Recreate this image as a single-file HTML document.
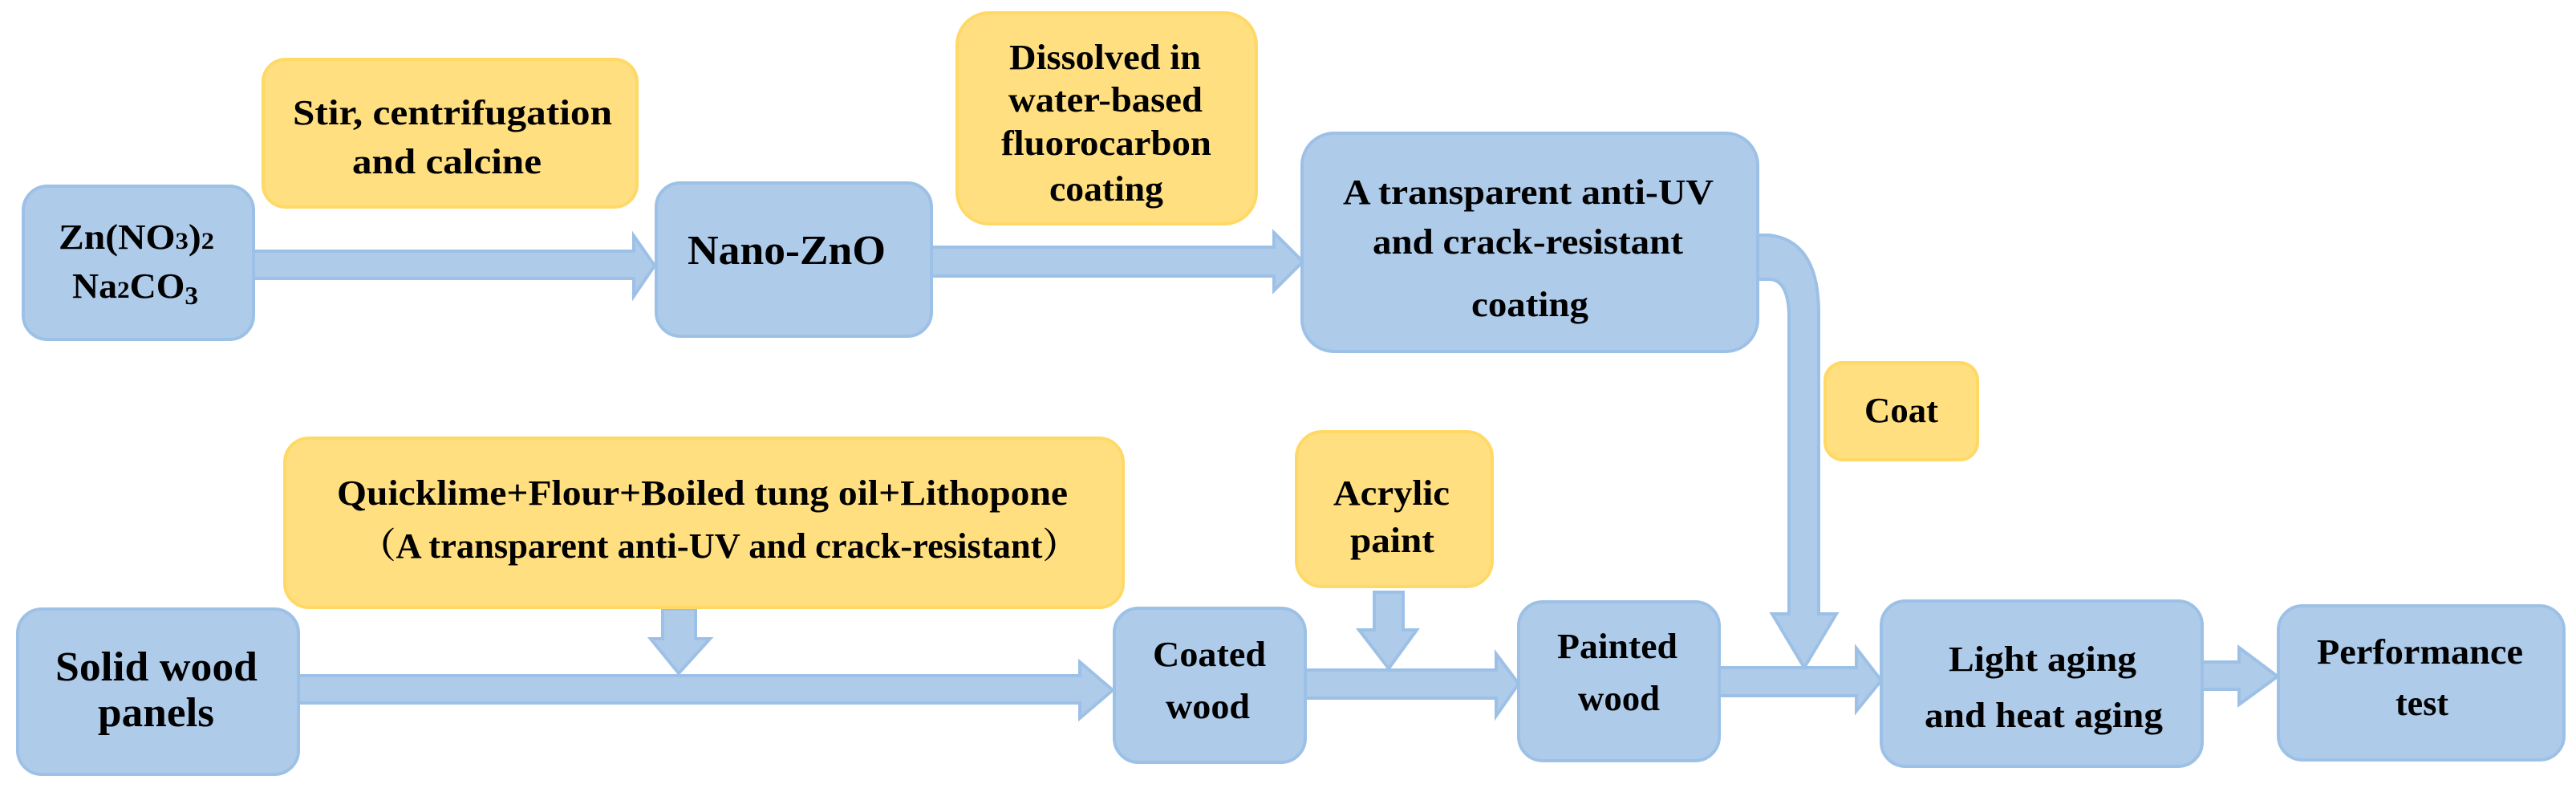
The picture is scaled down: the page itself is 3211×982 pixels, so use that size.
<!DOCTYPE html>
<html><head><meta charset="utf-8"><style>
html,body{margin:0;padding:0;background:#fff;}
svg{display:block;}
text{font-family:"Liberation Serif",serif;font-weight:bold;fill:#000;}
</style></head><body>
<svg width="3211" height="982" viewBox="0 0 3211 982" xmlns="http://www.w3.org/2000/svg">
<defs></defs>
<g fill="#aecbea" stroke="#9dc1e6" stroke-width="4">
<!-- arrows -->
<polygon points="316,313 790,313 790,294 816,331 790,369 790,347 316,347"/>
<polygon points="1161,308 1588,308 1588,290 1624,326 1588,362 1588,344 1161,344"/>
<polygon points="372,842 1346,842 1346,825 1387,860 1346,895 1346,876 372,876"/>
<polygon points="826,759 867,759 867,796 885,796 846,839 811,796 826,796"/>
<polygon points="1627,835 1865,835 1865,815 1893,852 1865,892 1865,870 1627,870"/>
<polygon points="1713,738 1749,738 1749,785 1766,785 1731,833 1694,785 1713,785"/>
<polygon points="2143,832 2314,832 2314,808 2345,848 2314,886 2314,867 2143,867"/>
<polygon points="2745,825 2791,825 2791,807 2839,843 2791,878 2791,859 2745,859"/>
<path d="M2190,293 L2205,293 Q2267,300 2267,390 L2267,765 L2289,765 L2249,832 L2209,765 L2230,765 L2230,390 Q2228,348 2205,348 L2190,348 Z"/>
</g>
<g fill="#aecbea" stroke="#9dc1e6" stroke-width="4">
<rect x="29" y="232" width="287" height="191" rx="30"/>
<rect x="818" y="228" width="343" height="191" rx="30"/>
<rect x="1623" y="166" width="568" height="272" rx="40"/>
<rect x="22" y="759" width="350" height="206" rx="30"/>
<rect x="1389" y="758" width="238" height="192" rx="30"/>
<rect x="1893" y="750" width="250" height="198" rx="30"/>
<rect x="2345" y="749" width="400" height="206" rx="30"/>
<rect x="2840" y="755" width="356" height="192" rx="30"/>
</g>
<g fill="#ffdf80" stroke="#ffd966" stroke-width="4">
<rect x="328" y="74" width="466" height="184" rx="28"/>
<rect x="1193" y="16" width="373" height="263" rx="40"/>
<rect x="355" y="546" width="1045" height="211" rx="30"/>
<rect x="1616" y="538" width="244" height="193" rx="32"/>
<rect x="2275" y="452" width="190" height="121" rx="22"/>
</g>
<g font-size="44">
<text x="365" y="155" textLength="398" lengthAdjust="spacingAndGlyphs">Stir, centrifugation</text>
<text x="439" y="216" textLength="236" lengthAdjust="spacingAndGlyphs">and calcine</text>
<text x="73" y="310" textLength="194" lengthAdjust="spacingAndGlyphs">Zn(NO<tspan font-size="30">3</tspan>)<tspan font-size="30">2</tspan></text>
<text x="90" y="371" textLength="157" lengthAdjust="spacingAndGlyphs">Na<tspan font-size="30">2</tspan>CO<tspan font-size="32" dy="8">3</tspan></text>
<text x="857" y="329" font-size="52" textLength="247" lengthAdjust="spacingAndGlyphs">Nano-ZnO</text>
<text x="1258" y="86" textLength="239" lengthAdjust="spacingAndGlyphs">Dissolved in</text>
<text x="1257" y="139" textLength="242" lengthAdjust="spacingAndGlyphs">water-based</text>
<text x="1248" y="193" textLength="262" lengthAdjust="spacingAndGlyphs">fluorocarbon</text>
<text x="1308" y="250" textLength="142" lengthAdjust="spacingAndGlyphs">coating</text>
<text x="1674" y="254" textLength="462" lengthAdjust="spacingAndGlyphs">A transparent anti-UV</text>
<text x="1711" y="316" textLength="387" lengthAdjust="spacingAndGlyphs">and crack-resistant</text>
<text x="1834" y="394" textLength="146" lengthAdjust="spacingAndGlyphs">coating</text>
<text x="2324" y="526" textLength="92" lengthAdjust="spacingAndGlyphs">Coat</text>
<text x="420" y="629" textLength="911" lengthAdjust="spacingAndGlyphs">Quicklime+Flour+Boiled tung oil+Lithopone</text>
<text x="449" y="695" textLength="895" lengthAdjust="spacingAndGlyphs" style="font-family:'Liberation Serif','Noto Serif CJK SC',serif">（A transparent anti-UV and crack-resistant）</text>
<text x="69" y="848" font-size="52" textLength="252" lengthAdjust="spacingAndGlyphs">Solid wood</text>
<text x="122" y="905" font-size="52" textLength="145" lengthAdjust="spacingAndGlyphs">panels</text>
<text x="1437" y="830" textLength="141" lengthAdjust="spacingAndGlyphs">Coated</text>
<text x="1453" y="895" textLength="105" lengthAdjust="spacingAndGlyphs">wood</text>
<text x="1662" y="629" textLength="145" lengthAdjust="spacingAndGlyphs">Acrylic</text>
<text x="1683" y="688" textLength="105" lengthAdjust="spacingAndGlyphs">paint</text>
<text x="1941" y="820" textLength="150" lengthAdjust="spacingAndGlyphs">Painted</text>
<text x="1967" y="885" textLength="102" lengthAdjust="spacingAndGlyphs">wood</text>
<text x="2429" y="836" textLength="234" lengthAdjust="spacingAndGlyphs">Light aging</text>
<text x="2399" y="906" textLength="297" lengthAdjust="spacingAndGlyphs">and heat aging</text>
<text x="2888" y="827" textLength="257" lengthAdjust="spacingAndGlyphs">Performance</text>
<text x="2986" y="891" textLength="66" lengthAdjust="spacingAndGlyphs">test</text>
</g>
</svg>
</body></html>
